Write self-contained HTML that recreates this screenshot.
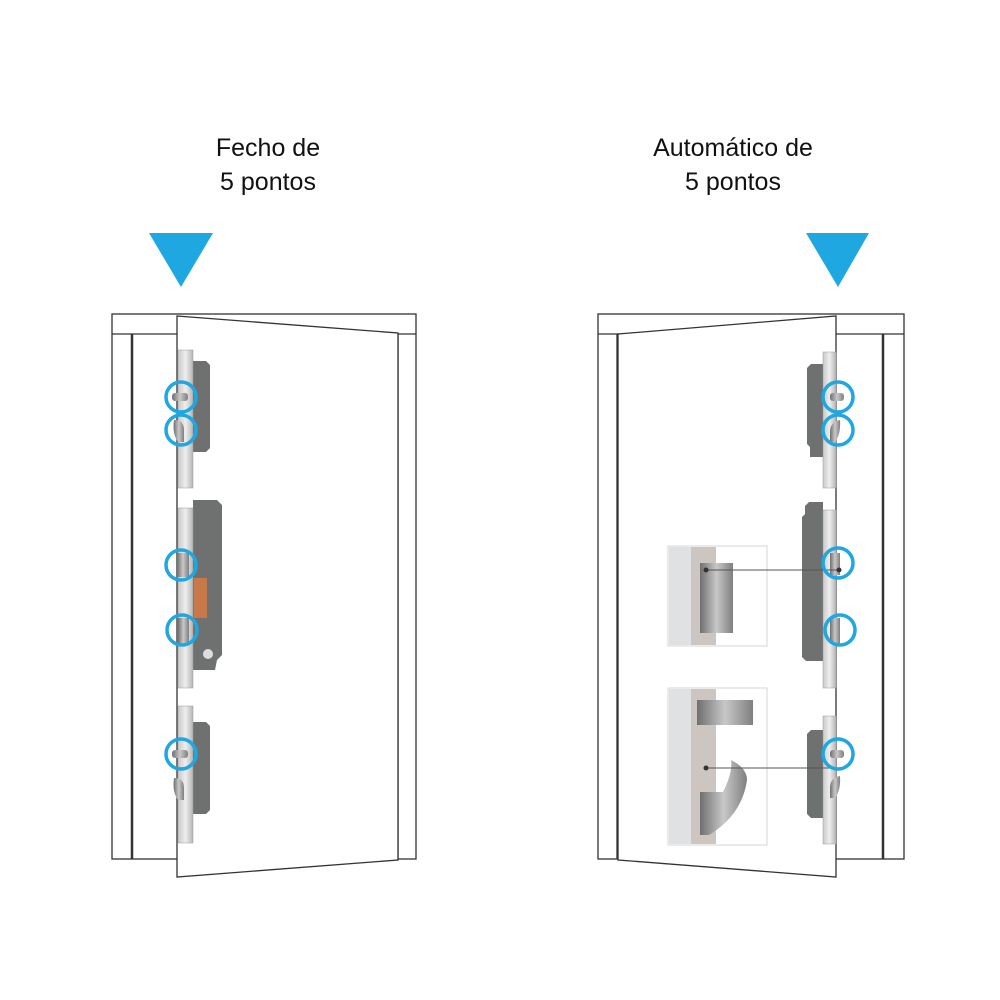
<!DOCTYPE html>
<html><head><meta charset="utf-8"><style>
html,body{margin:0;padding:0;background:#fff;width:1000px;height:1000px;overflow:hidden}
svg{display:block}
text{font-family:"Liberation Sans",sans-serif;font-size:25px;fill:#111}
</style></head><body>
<svg width="1000" height="1000" viewBox="0 0 1000 1000" xmlns="http://www.w3.org/2000/svg">
<defs>
<linearGradient id="steel" x1="0" x2="1"><stop offset="0" stop-color="#c9c9c9"/><stop offset="0.5" stop-color="#eeeeee"/><stop offset="1" stop-color="#b5b5b5"/></linearGradient>
<linearGradient id="bolt" x1="0" x2="1"><stop offset="0" stop-color="#6f6f6f"/><stop offset="0.5" stop-color="#c8c8c8"/><stop offset="1" stop-color="#7f7f7f"/></linearGradient>
</defs>
<text x="268" y="156" text-anchor="middle">Fecho de</text>
<text x="268" y="190" text-anchor="middle">5 pontos</text>
<text x="733" y="156" text-anchor="middle">Automático de</text>
<text x="733" y="190" text-anchor="middle">5 pontos</text>
<polygon points="149,233 213,233 181,287" fill="#1ea7e1"/>
<polygon points="806,233 869,233 838,287" fill="#1ea7e1"/>

<!-- LEFT DOOR -->
<g fill="none" stroke="#333" stroke-width="1.3">
<rect x="112" y="314" width="304" height="545"/>
<line x1="112" y1="334" x2="416" y2="334"/>
<line x1="132" y1="334" x2="132" y2="859" stroke-width="2.5"/>
<line x1="398" y1="334" x2="398" y2="859"/>
</g>
<polygon points="177,316 398,333 398,860 177,877" fill="#fff" stroke="#333" stroke-width="1.3"/>
<g>
<path d="M193,361 h13 l4,4 v83 l-4,4 h-13z" fill="#6e7170"/>
<path d="M193,500 h24 l5,5 v150 l-5,5 l-2,10 h-22z" fill="#6e7170"/>
<rect x="194" y="578" width="13" height="40" fill="#c8794a"/>
<path d="M193,722 h13 l4,4 v84 l-4,4 h-13z" fill="#6e7170"/>
<rect x="178" y="350" width="15" height="138" fill="url(#steel)" stroke="#999" stroke-width="0.5"/>
<rect x="178" y="508" width="15" height="180" fill="url(#steel)" stroke="#999" stroke-width="0.5"/>
<rect x="178" y="706" width="15" height="137" fill="url(#steel)" stroke="#999" stroke-width="0.5"/>
<rect x="172" y="393" width="16" height="8" rx="3" fill="url(#bolt)"/>
<path d="M174,420 q10,0 10,10 v12 h-6 q-6,-8 -4,-22z" fill="url(#bolt)"/>
<rect x="177" y="553" width="12" height="24" fill="url(#bolt)"/>
<rect x="178" y="618" width="11" height="26" fill="url(#bolt)"/>
<circle cx="208" cy="654" r="5" fill="#ddd"/>
<rect x="172" y="750" width="16" height="8" rx="3" fill="url(#bolt)"/>
<path d="M174,778 q10,0 10,10 v12 h-6 q-6,-8 -4,-22z" fill="url(#bolt)"/>
</g>
<g fill="none" stroke="#1ea7e1" stroke-width="3.5">
<circle cx="181" cy="397" r="15"/><circle cx="181" cy="430" r="15"/>
<circle cx="181" cy="565" r="15"/><circle cx="182" cy="630" r="15"/>
<circle cx="181" cy="754" r="15"/>
</g>

<!-- RIGHT DOOR -->
<g fill="none" stroke="#333" stroke-width="1.3">
<rect x="598" y="314" width="306" height="545"/>
<line x1="598" y1="334" x2="904" y2="334"/>
<line x1="617" y1="334" x2="617" y2="859"/>
<line x1="883" y1="334" x2="883" y2="859" stroke-width="2.5"/>
</g>
<polygon points="618,334 836,316 836,877 618,860" fill="#fff" stroke="#333" stroke-width="1.3"/>
<g>
<path d="M823,364 h-12 l-4,4 v76 l3,3 v10 h13z" fill="#6e7170"/>
<path d="M823,502 h-14 l-4,4 v8 l-3,3 v140 l4,4 h17z" fill="#6e7170"/>
<path d="M823,730 h-12 l-4,4 v80 l4,4 h12z" fill="#6e7170"/>
<rect x="823" y="352" width="13" height="136" fill="url(#steel)" stroke="#999" stroke-width="0.5"/>
<rect x="823" y="510" width="13" height="178" fill="url(#steel)" stroke="#999" stroke-width="0.5"/>
<rect x="823" y="716" width="13" height="128" fill="url(#steel)" stroke="#999" stroke-width="0.5"/>
<rect x="830" y="393" width="14" height="8" rx="3" fill="url(#bolt)"/>
<path d="M840,420 q-10,2 -10,12 v10 h5 q6,-8 5,-22z" fill="url(#bolt)"/>
<rect x="830" y="553" width="10" height="22" fill="url(#bolt)"/>
<rect x="830" y="618" width="10" height="26" fill="url(#bolt)"/>
<rect x="830" y="750" width="14" height="8" rx="3" fill="url(#bolt)"/>
<path d="M840,776 q-10,2 -10,12 v10 h5 q6,-8 5,-22z" fill="url(#bolt)"/>
</g>
<g>
<rect x="668" y="546" width="99" height="100" fill="#fff" stroke="#ccc" stroke-width="0.8"/>
<rect x="669" y="547" width="22" height="98" fill="#dfe1e2"/>
<rect x="691" y="547" width="25" height="98" fill="#cdc6c0"/>
<rect x="700" y="563" width="33" height="70" fill="url(#bolt)"/>
<rect x="668" y="688" width="99" height="157" fill="#fff" stroke="#ccc" stroke-width="0.8"/>
<rect x="669" y="689" width="22" height="155" fill="#dfe1e2"/>
<rect x="691" y="689" width="25" height="155" fill="#cdc6c0"/>
<rect x="697" y="700" width="56" height="25" fill="url(#bolt)"/>
<path d="M700,792 h23 q10,-20 8,-32 q16,8 16,20 q-5,35 -38,55 h-9z" fill="url(#bolt)"/>
</g>
<g stroke="#555" stroke-width="1">
<line x1="706" y1="570" x2="839" y2="570"/>
<line x1="706" y1="768" x2="836" y2="768"/>
</g>
<circle cx="706" cy="570" r="2.5" fill="#333"/><circle cx="839" cy="570" r="2.5" fill="#333"/>
<circle cx="706" cy="768" r="2.5" fill="#333"/>
<g fill="none" stroke="#1ea7e1" stroke-width="3.5">
<circle cx="838" cy="397" r="15"/><circle cx="838" cy="430" r="15"/>
<circle cx="838" cy="563" r="15"/><circle cx="840" cy="630" r="15"/>
<circle cx="838" cy="754" r="15"/>
</g>
</svg>
</body></html>
